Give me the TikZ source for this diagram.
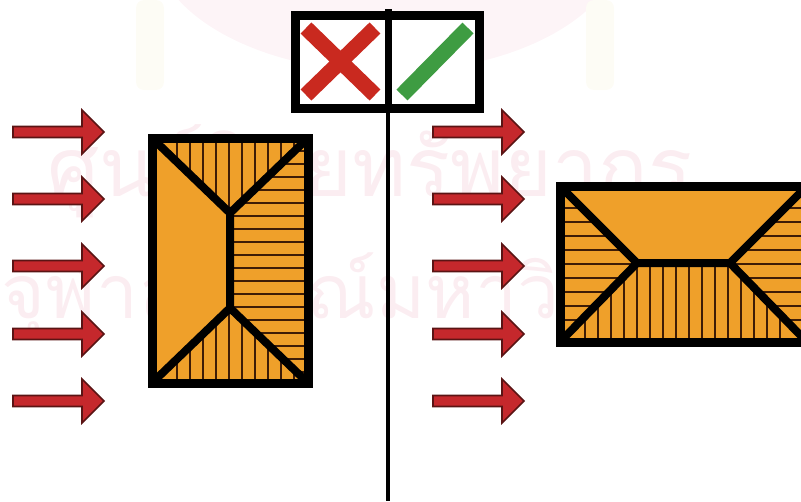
\documentclass[tikz,border=0pt]{standalone}
\usepackage{fontspec}
\newfontfamily\thaifont[Script=Thai]{Loma}
\definecolor{rooforange}{HTML}{EFA02A}
\definecolor{hatchbrown}{HTML}{3E1C06}
\definecolor{windred}{HTML}{C5282C}
\definecolor{winddark}{HTML}{5A1414}
\definecolor{crossred}{HTML}{C9291F}
\definecolor{checkgreen}{HTML}{3E9C42}
\definecolor{markpink}{HTML}{FBEDF1}
\definecolor{markcream}{HTML}{FDFCF5}
\usetikzlibrary{calc}

\begin{document}
\begin{tikzpicture}[
    x=1pt, y=-1pt,
    outline/.style={draw=black, line width=9pt, line join=miter},
    ridge/.style={draw=black, line width=8pt, line cap=round},
    hatch/.style={draw=hatchbrown, line width=2.6pt},
    wind/.style={fill=windred, draw=winddark, line width=1.6pt, line join=miter},
    signbar/.style={line width=15.5pt},
    watermark/.style={font=\thaifont\fontsize{#1}{#1}\selectfont, text=markpink, inner sep=0pt},
]
    \useasboundingbox (0,0) rectangle (801,501);
    \clip (0,0) rectangle (801,501);

    % faint emblem and stamp text behind everything
    \fill[markpink!60] (388,-60) ellipse (235 and 132);
    \foreach \x in {150,600}
        \fill[markcream, rounded corners=8pt] (\x-14,0) rectangle (\x+14,90);
    \node[watermark=82, anchor=base] (stampa) at (370,196) {ศูนย์วิทยทรัพยากร};
    \node[watermark=75, anchor=base] (stampb) at (393,318) {จุฬาลงกรณ์มหาวิทยาลัย};

    % wind arrows
    \foreach \y in {132,199,266,334,401} {
        \foreach \x in {13,433} {
            \draw[wind] (\x,\y-5.5) -- ++(69,0) -- ++(0,-16.5) -- ++(22,22) -- ++(-22,22) -- ++(0,-16.5) -- ++(-69,0) -- cycle;
        }
    }

    % left roof
    \coordinate (la) at (152,138);
    \coordinate (lb) at (308,138);
    \coordinate (lc) at (308,383);
    \coordinate (ld) at (152,383);
    \coordinate (lt) at (230,213);
    \coordinate (lu) at (230,308);
    \fill[rooforange] (la) -- (lb) -- (lc) -- (ld) -- cycle;
    \begin{scope}
        \clip (la) -- (lb) -- (lt) -- cycle;
        \foreach \x in {177,190,...,298} \draw[hatch] (\x,130) -- (\x,220);
    \end{scope}
    \begin{scope}
        \clip (ld) -- (lc) -- (lu) -- cycle;
        \foreach \x in {177,190,...,298} \draw[hatch] (\x,300) -- (\x,390);
    \end{scope}
    \begin{scope}
        \clip (lb) -- (lc) -- (lu) -- (lt) -- cycle;
        \foreach \y in {151,164,...,372} \draw[hatch] (225,\y) -- (315,\y);
    \end{scope}
    \draw[ridge] (la) -- (lt) -- (lu) -- (ld);
    \draw[ridge] (lb) -- (lt);
    \draw[ridge] (lu) -- (lc);
    \draw[outline] (la) rectangle (lc);

    % right roof
    \coordinate (ra) at (560,186);
    \coordinate (rb) at (807,186);
    \coordinate (rc) at (807,342);
    \coordinate (rd) at (560,342);
    \coordinate (rt) at (637,263);
    \coordinate (ru) at (730,263);
    \fill[rooforange] (ra) -- (rb) -- (rc) -- (rd) -- cycle;
    \begin{scope}
        \clip (ra) -- (rt) -- (rd) -- cycle;
        \foreach \y in {208,222,...,330} \draw[hatch] (555,\y) -- (640,\y);
    \end{scope}
    \begin{scope}
        \clip (rb) -- (ru) -- (rc) -- cycle;
        \foreach \y in {208,222,...,330} \draw[hatch] (725,\y) -- (810,\y);
    \end{scope}
    \begin{scope}
        \clip (rt) -- (ru) -- (rc) -- (rd) -- cycle;
        \foreach \x in {585,598,...,790} \draw[hatch] (\x,258) -- (\x,348);
    \end{scope}
    \draw[ridge] (ra) -- (rt) -- (ru) -- (rb);
    \draw[ridge] (rd) -- (rt);
    \draw[ridge] (ru) -- (rc);
    \draw[outline] (ra) rectangle (rc);

    % wrong and right signs
    \fill[white] (295,15) rectangle (479,108);
    \draw[signbar, crossred] (306,28) -- (375,95);
    \draw[signbar, crossred] (375,28) -- (306,95);
    \draw[signbar, checkgreen] (402,95) -- (468,28);
    \draw[outline] (295,15) rectangle (479,108);
    \draw[line width=7pt] (388,9) -- (388,113);
    \draw[line width=4pt] (388,113) -- (388,501);
\end{tikzpicture}
\end{document}
